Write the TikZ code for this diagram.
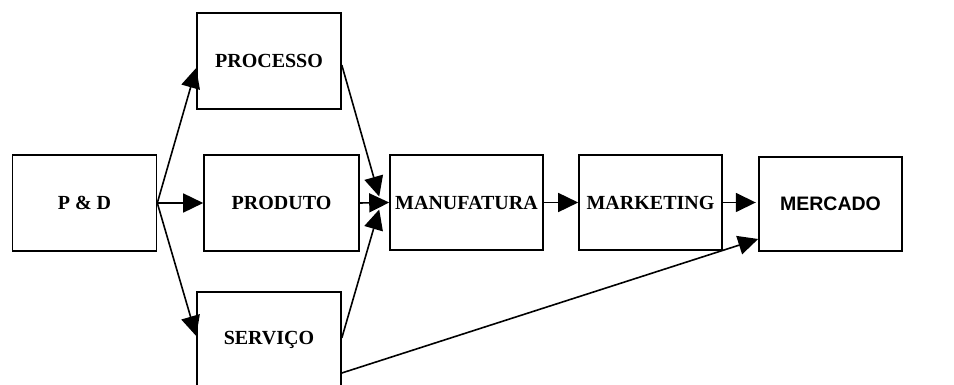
\documentclass[tikz,border=0pt]{standalone}
\usepackage{fontspec}
\setmainfont{Liberation Serif}
\newfontfamily\arialfont{Liberation Sans}
\usetikzlibrary{arrows.meta,calc}
\begin{document}
\begin{tikzpicture}[x=1pt,y=-1pt,
 box/.style={draw,line width=1.6pt,inner sep=0pt,minimum width=144pt,minimum height=96pt,font=\bfseries\fontsize{20}{24}\selectfont},
 arr/.style={line width=1.6pt,-{Triangle[length=20pt,width=19pt]}}]
\useasboundingbox (0,0) rectangle (954,385);
\node[box] (pd) at (84.5,203) {P \& D};
\node[box] (proc) at (269,61) {PROCESSO};
\node[box,minimum width=155pt] (prod) at (281.5,203) {PRODUTO};
\node[box] (serv) at (269,340) {SERVIÇO};
\node[box,minimum width=153pt,minimum height=95pt] (manu) at (466.5,202.5) {MANUFATURA};
\node[box,minimum width=143pt,minimum height=95pt] (mark) at (650.5,202.5) {MARKETING};
\node[box,minimum width=143pt,minimum height=94pt,font=\arialfont\bfseries\fontsize{19.5}{23}\selectfont] (merc) at (830.5,204) {MERCADO};
\coordinate (mtip) at ($(mark.east)+(33,0)$);
\draw[arr] (pd.east) -- ($(proc.west)+(0,7)$);
\draw[arr] (pd.east) -- (prod.west);
\draw[arr] (pd.east) -- ($(serv.west)+(0,-4)$);
\draw[arr] ($(proc.east)+(0,4)$) -- ($(manu.west)+(-10,-6)$);
\draw[arr] (prod.east) -- (manu.west);
\draw[arr] ($(serv.east)+(0,-2)$) -- ($(manu.west)+(-10,7)$);
\draw[arr] (manu.east) -- (mark.west);
\draw[arr] (mark.east) -- (mtip);
\draw[arr] ($(serv.east)+(0,33)$) -- ($(merc.west)+(0,35)$);
\end{tikzpicture}
\end{document}
